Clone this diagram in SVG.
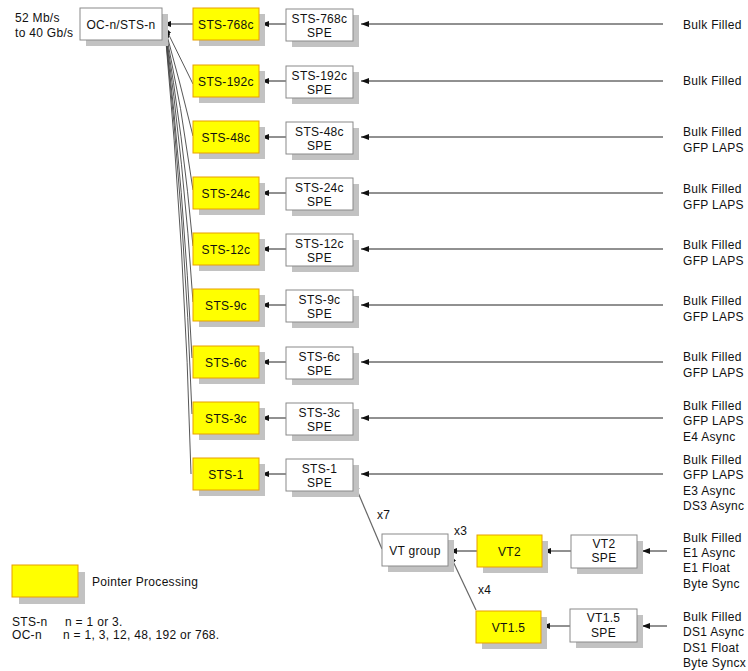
<svg xmlns="http://www.w3.org/2000/svg" width="748" height="671" viewBox="0 0 748 671">
<style>
text{font-family:"Liberation Sans",Arial,sans-serif;font-size:12px;fill:#111;letter-spacing:0.3px}
.c{text-anchor:middle}
.sh{fill:#C2C2C2}
.y{fill:#FFFF00;stroke:#E8A000;stroke-width:1}
.w{fill:#FFFFFF;stroke:#8A8A8A;stroke-width:1}
.e{fill:none;stroke:#222;stroke-width:1;marker-end:url(#a)}
.f{fill:none;stroke:#444;stroke-width:0.9;marker-end:url(#a)}
.g{fill:none;stroke:#666;stroke-width:1.2;marker-end:url(#a)}
</style>
<defs>
<marker id="a" viewBox="0 0 8 6" refX="8" refY="3" markerWidth="8" markerHeight="6" markerUnits="userSpaceOnUse" orient="auto"><path d="M0,0 L8,3 L0,6 z" fill="#111"/></marker>
</defs>
<rect width="748" height="671" fill="#FFFFFF"/>

<g id="connectors">
<!-- inputs to SPE -->
<path class="e" d="M663,24 L361,24"/>
<path class="e" d="M663,81 L361,81"/>
<path class="e" d="M663,137 L361,137"/>
<path class="e" d="M663,193 L361,193"/>
<path class="e" d="M663,249 L361,249"/>
<path class="e" d="M663,305 L361,305"/>
<path class="e" d="M663,362 L361,362"/>
<path class="e" d="M663,418 L361,418"/>
<path class="e" d="M663,474 L361,474"/>
<!-- SPE to pointer -->
<path class="e" d="M286,24 L261,24"/>
<path class="e" d="M286,81 L261,81"/>
<path class="e" d="M286,137 L261,137"/>
<path class="e" d="M286,193 L261,193"/>
<path class="e" d="M286,249 L261,249"/>
<path class="e" d="M286,305 L261,305"/>
<path class="e" d="M286,362 L261,362"/>
<path class="e" d="M286,418 L261,418"/>
<path class="e" d="M286,474 L261,474"/>
<!-- pointer to OC -->
<path class="e" d="M193,24 L163,24"/>
<path class="f" d="M193,84 L165,27"/>
<path class="f" d="M193,136 Q180,82 165,28"/>
<path class="f" d="M193,190 Q182,108 165,28"/>
<path class="f" d="M193,246 Q183,136 165,29"/>
<path class="f" d="M193,302 Q184,164 165,29"/>
<path class="f" d="M192,358 Q184,192 165,29"/>
<path class="f" d="M192,414 Q185,220 165,30"/>
<path class="f" d="M191,474 Q185,250 165,30"/>
<!-- VT -->
<path class="e" d="M667,551 L642,551"/>
<path class="e" d="M667,626 L642,626"/>
<path class="e" d="M571,551 L543,551"/>
<path class="e" d="M570,626 L542,626"/>
<path class="e" d="M477,551 L449,551"/>
<path class="g" d="M476,610 L450,555"/>
<path class="g" d="M382,549 L354,483"/>
</g>

<g id="rate-label">
<text x="15" y="22">52 Mb/s</text>
<text x="15" y="37">to 40 Gb/s</text>
</g>

<g id="oc-n">
<rect class="sh" x="86" y="14" width="82" height="32"/>
<rect class="w" x="80" y="8" width="82" height="32"/>
<text class="c" x="121" y="29">OC-n/STS-n</text>
</g>

<g id="sts-768c"><rect class="sh" x="199" y="14" width="66" height="32"/><rect class="y" x="193" y="8" width="66" height="32"/><text class="c" x="226" y="29">STS-768c</text></g>
<g id="sts-192c"><rect class="sh" x="199" y="71" width="66" height="32"/><rect class="y" x="193" y="65" width="66" height="32"/><text class="c" x="226" y="86">STS-192c</text></g>
<g id="sts-48c"><rect class="sh" x="199" y="127" width="66" height="32"/><rect class="y" x="193" y="121" width="66" height="32"/><text class="c" x="226" y="142">STS-48c</text></g>
<g id="sts-24c"><rect class="sh" x="199" y="183" width="66" height="32"/><rect class="y" x="193" y="177" width="66" height="32"/><text class="c" x="226" y="198">STS-24c</text></g>
<g id="sts-12c"><rect class="sh" x="199" y="239" width="66" height="32"/><rect class="y" x="193" y="233" width="66" height="32"/><text class="c" x="226" y="254">STS-12c</text></g>
<g id="sts-9c"><rect class="sh" x="199" y="295" width="66" height="32"/><rect class="y" x="193" y="289" width="66" height="32"/><text class="c" x="226" y="310">STS-9c</text></g>
<g id="sts-6c"><rect class="sh" x="199" y="352" width="66" height="32"/><rect class="y" x="193" y="346" width="66" height="32"/><text class="c" x="226" y="367">STS-6c</text></g>
<g id="sts-3c"><rect class="sh" x="199" y="408" width="66" height="32"/><rect class="y" x="193" y="402" width="66" height="32"/><text class="c" x="226" y="423">STS-3c</text></g>
<g id="sts-1"><rect class="sh" x="199" y="464" width="66" height="32"/><rect class="y" x="193" y="458" width="66" height="32"/><text class="c" x="226" y="479">STS-1</text></g>

<g id="sts-768c-spe"><rect class="sh" x="292" y="15" width="67" height="32"/><rect class="w" x="286" y="9" width="67" height="32"/><text class="c" x="319.5" y="23">STS-768c</text><text class="c" x="319.5" y="37">SPE</text></g>
<g id="sts-192c-spe"><rect class="sh" x="292" y="72" width="67" height="32"/><rect class="w" x="286" y="66" width="67" height="32"/><text class="c" x="319.5" y="80">STS-192c</text><text class="c" x="319.5" y="94">SPE</text></g>
<g id="sts-48c-spe"><rect class="sh" x="292" y="128" width="67" height="32"/><rect class="w" x="286" y="122" width="67" height="32"/><text class="c" x="319.5" y="136">STS-48c</text><text class="c" x="319.5" y="150">SPE</text></g>
<g id="sts-24c-spe"><rect class="sh" x="292" y="184" width="67" height="32"/><rect class="w" x="286" y="178" width="67" height="32"/><text class="c" x="319.5" y="192">STS-24c</text><text class="c" x="319.5" y="206">SPE</text></g>
<g id="sts-12c-spe"><rect class="sh" x="292" y="240" width="67" height="32"/><rect class="w" x="286" y="234" width="67" height="32"/><text class="c" x="319.5" y="248">STS-12c</text><text class="c" x="319.5" y="262">SPE</text></g>
<g id="sts-9c-spe"><rect class="sh" x="292" y="296" width="67" height="32"/><rect class="w" x="286" y="290" width="67" height="32"/><text class="c" x="319.5" y="304">STS-9c</text><text class="c" x="319.5" y="318">SPE</text></g>
<g id="sts-6c-spe"><rect class="sh" x="292" y="353" width="67" height="32"/><rect class="w" x="286" y="347" width="67" height="32"/><text class="c" x="319.5" y="361">STS-6c</text><text class="c" x="319.5" y="375">SPE</text></g>
<g id="sts-3c-spe"><rect class="sh" x="292" y="409" width="67" height="32"/><rect class="w" x="286" y="403" width="67" height="32"/><text class="c" x="319.5" y="417">STS-3c</text><text class="c" x="319.5" y="431">SPE</text></g>
<g id="sts-1-spe"><rect class="sh" x="292" y="465" width="67" height="32"/><rect class="w" x="286" y="459" width="67" height="32"/><text class="c" x="319.5" y="473">STS-1</text><text class="c" x="319.5" y="487">SPE</text></g>

<g id="payload-labels">
<text x="683" y="29">Bulk Filled</text>
<text x="683" y="85">Bulk Filled</text>
<text x="683" y="136">Bulk Filled</text><text x="683" y="152">GFP LAPS</text>
<text x="683" y="193">Bulk Filled</text><text x="683" y="209">GFP LAPS</text>
<text x="683" y="249">Bulk Filled</text><text x="683" y="265">GFP LAPS</text>
<text x="683" y="305">Bulk Filled</text><text x="683" y="321">GFP LAPS</text>
<text x="683" y="361">Bulk Filled</text><text x="683" y="377">GFP LAPS</text>
<text x="683" y="410">Bulk Filled</text><text x="683" y="425">GFP LAPS</text><text x="683" y="441">E4 Async</text>
<text x="683" y="464">Bulk Filled</text><text x="683" y="479">GFP LAPS</text><text x="683" y="495">E3 Async</text><text x="683" y="510">DS3 Async</text>
<text x="683" y="542">Bulk Filled</text><text x="683" y="557">E1 Async</text><text x="683" y="572">E1 Float</text><text x="683" y="588">Byte Sync</text>
<text x="683" y="621">Bulk Filled</text><text x="683" y="636">DS1 Async</text><text x="683" y="652">DS1 Float</text><text x="683" y="667">Byte Syncx</text>
</g>

<g id="vt-group"><rect class="sh" x="388" y="540" width="66" height="32"/><rect class="w" x="382" y="534" width="66" height="32"/><text class="c" x="415" y="555">VT group</text></g>
<g id="vt2"><rect class="sh" x="483" y="541" width="65" height="32"/><rect class="y" x="477" y="535" width="65" height="32"/><text class="c" x="509.5" y="556">VT2</text></g>
<g id="vt2-spe"><rect class="sh" x="577" y="541" width="66" height="33"/><rect class="w" x="571" y="535" width="66" height="33"/><text class="c" x="604" y="548">VT2</text><text class="c" x="604" y="562">SPE</text></g>
<g id="vt15"><rect class="sh" x="482" y="617" width="65" height="32"/><rect class="y" x="476" y="611" width="65" height="32"/><text class="c" x="508.5" y="632">VT1.5</text></g>
<g id="vt15-spe"><rect class="sh" x="576" y="615" width="67" height="33"/><rect class="w" x="570" y="609" width="67" height="33"/><text class="c" x="603.5" y="622">VT1.5</text><text class="c" x="603.5" y="637">SPE</text></g>

<g id="multipliers">
<text x="377" y="519">x7</text>
<text x="454" y="535">x3</text>
<text x="478" y="594">x4</text>
</g>

<g id="legend">
<rect class="sh" x="19" y="572" width="66" height="32"/>
<rect class="y" x="12" y="565" width="66" height="32"/>
<text x="92" y="586">Pointer Processing</text>
<text x="12" y="626">STS-n</text><text x="65" y="626">n = 1 or 3.</text>
<text x="12" y="639">OC-n</text><text x="63" y="639">n = 1, 3, 12, 48, 192 or 768.</text>
</g>
</svg>
